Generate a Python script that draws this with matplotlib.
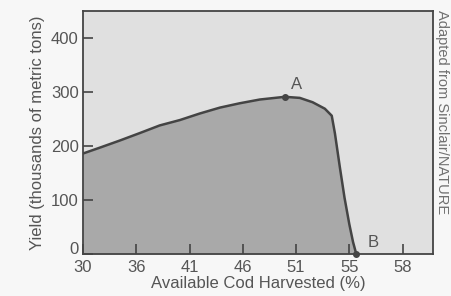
import matplotlib.pyplot as plt
import matplotlib.transforms as mtransforms

# tick labels are spaced evenly, positions 0..6
x_ticks = [30, 36, 41, 46, 51, 55, 58]
y_ticks = [0, 100, 200, 300, 400]

# curve (x in tick-position units, y in thousands of tons)
curve_x = [0.0, 0.32, 0.69, 1.07, 1.44, 1.82, 2.19, 2.57, 2.94, 3.32, 3.79,
           4.07, 4.31, 4.54, 4.67, 4.73, 4.82, 4.91, 5.00, 5.07, 5.13]
curve_y = [186, 197, 210, 224, 238, 248, 260, 271, 279, 286, 291,
           289, 281, 269, 256, 223, 162, 104, 55, 22, 0]

point_a = (3.79, 291)
point_b = (5.13, 0)

plt.rcParams['font.family'] = ['Liberation Sans', 'DejaVu Sans']
text_col = '#555555'
line_col = '#444444'

fig = plt.figure(figsize=(4.51, 2.96), dpi=100)
fig.patch.set_facecolor('#f7f7f7')
ax = fig.add_axes([0.184, 0.142, 0.776, 0.821])
ax.set_facecolor('#e0e0e0')

ax.fill_between(curve_x, curve_y, 0, color='#a9a9a9', lw=0)
ax.plot(curve_x, curve_y, color=line_col, lw=1.8, solid_joinstyle='round')
# marker dots for A and B, kept on top of the spine
for pt in (point_a, point_b):
    ax.plot(*pt, 'o', color=line_col, ms=4, clip_on=False, zorder=5)
ax.text(point_a[0] + 0.12, point_a[1] + 8, 'A', color=text_col, fontsize=12, va='bottom')
ax.text(point_b[0] + 0.22, point_b[1] + 8, 'B', color=text_col, fontsize=12, va='bottom')

ax.set_xlim(0, 6.57)
ax.set_ylim(0, 450)
ax.set_xticks(range(len(x_ticks)))
ax.set_xticklabels([str(v) for v in x_ticks])
ax.set_yticks(y_ticks)
ax.tick_params(direction='in', length=7, width=1.2, color=line_col,
               labelcolor=text_col, labelsize=12)
ax.tick_params(axis='x', pad=4)
ax.tick_params(axis='y', pad=3)
for s in ax.spines.values():
    s.set_color(line_col)
    s.set_linewidth(1.3)

# the "0" sits a little above the corner, like the original
zero_lbl = ax.get_yticklabels()[0]
zero_lbl.set_transform(zero_lbl.get_transform() +
                       mtransforms.ScaledTranslation(0, 4 / 72, fig.dpi_scale_trans))

ax.set_xlabel('Available Cod Harvested (%)', color=text_col, fontsize=12, labelpad=1)
ax.set_ylabel('Yield (thousands of metric tons)', color=text_col, fontsize=12, labelpad=4)

fig.text(0.980, 0.965, 'Adapted from Sinclair/NATURE', rotation=-90, color='#707070',
         fontsize=10.5, ha='center', va='top')

fig.savefig('out.png', dpi=100)
